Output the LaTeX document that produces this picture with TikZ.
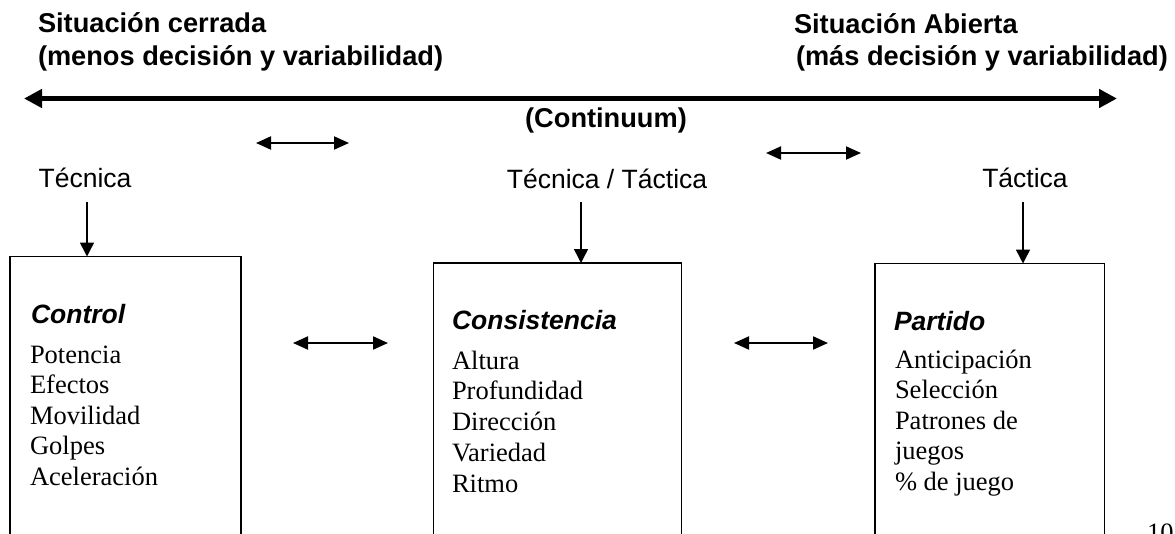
\documentclass[tikz,border=0pt]{standalone}
\usepackage{fontspec}
\setmainfont{Liberation Serif}
\setsansfont{Liberation Sans}
\usetikzlibrary{arrows.meta}
\begin{document}
\begin{tikzpicture}[x=1pt,y=-1pt,
  every node/.style={inner sep=0pt, outer sep=0pt},
  title/.style={font=\sffamily\bfseries\fontsize{27.2}{30}\selectfont, anchor=base west},
  lbl/.style={font=\sffamily\fontsize{26.5}{30}\selectfont, anchor=base},
  head/.style={font=\sffamily\bfseries\itshape\fontsize{26.5}{30}\selectfont, anchor=base west},
  item/.style={font=\rmfamily\fontsize{26.5}{30.5}\selectfont, anchor=base west},
  boxfr/.style={draw, line width=1.8pt, anchor=north west, minimum height=320pt},
  bigarrow/.style={line width=5pt, {Triangle[length=18pt,width=18pt]}-{Triangle[length=18pt,width=18pt]}},
  dbl/.style={line width=2pt, {Triangle[length=15pt,width=13pt]}-{Triangle[length=15pt,width=13pt]}},
  down/.style={line width=1.5pt, -{Triangle[length=14pt,width=14pt]}}]
\useasboundingbox (0,0) rectangle (1175,533);
\clip (0,0) rectangle (1175,533);

% titles
\node[title] (tl1) at (38,32) {Situación cerrada};
\node[title] (tl2) at (38,65) {(menos decisión y variabilidad)};
\node[title] (tr1) at (794,33) {Situación Abierta};
\node[title] (tr2) at (796,65) {(más decisión y variabilidad)};

% continuum arrow
\coordinate (cl) at (24,98.5);
\coordinate (cr) at (1117,98.5);
\draw[bigarrow] (cl) -- (cr);
\node[title, anchor=base] (cont) at (606,127) {(Continuum)};

% small top double arrows
\coordinate (t1a) at (256,143);
\coordinate (t1b) at (349,143);
\coordinate (t2a) at (766,153);
\coordinate (t2b) at (861,153);
\draw[dbl] (t1a) -- (t1b);
\draw[dbl] (t2a) -- (t2b);

% labels
\node[lbl] (tec) at (85,187.5) {Técnica};
\node[lbl] (tt) at (607,188) {Técnica / Táctica};
\node[lbl] (tac) at (1025,187.5) {Táctica};

% boxes
\node[boxfr, minimum width=231pt] (ctrl) at (10,256.5) {};
\node[boxfr, minimum width=248pt] (cons) at (433.5,263) {};
\node[boxfr, minimum width=229.5pt] (part) at (875,263.5) {};

% down arrows
\coordinate (d1) at (87,202);
\coordinate (d2) at (581,202);
\coordinate (d3) at (1023,202);
\draw[down] (d1) -- (d1 |- ctrl.north);
\draw[down] (d2) -- (d2 |- cons.north);
\draw[down] (d3) -- (d3 |- part.north);

% double arrows between boxes
\coordinate (m1a) at (293,343);
\coordinate (m1b) at (388,343);
\coordinate (m2a) at (734,343);
\coordinate (m2b) at (828,343);
\draw[dbl] (m1a) -- (m1b);
\draw[dbl] (m2a) -- (m2b);

% box contents
\node[head] (hc) at (31,323) {Control};
\foreach \t [count=\i] in {Potencia,Efectos,Movilidad,Golpes,Aceleración}
  \node[item] (c\i) at (30,{363+30.5*(\i-1)}) {\t};

\node[head] (hs) at (452,329) {Consistencia};
\foreach \t [count=\i] in {Altura,Profundidad,Dirección,Variedad,Ritmo}
  \node[item] (s\i) at (452,{369+30.75*(\i-1)}) {\t};

\node[head] (hp) at (894,330) {Partido};
\foreach \t [count=\i] in {Anticipación,Selección,Patrones de,juegos,\% de juego}
  \node[item] (p\i) at (895,{368+30.5*(\i-1)}) {\t};

% page number (cut off by the page edge, as in the reference)
\node[item] (pg) at (1147,541) {10};
\end{tikzpicture}
\end{document}
